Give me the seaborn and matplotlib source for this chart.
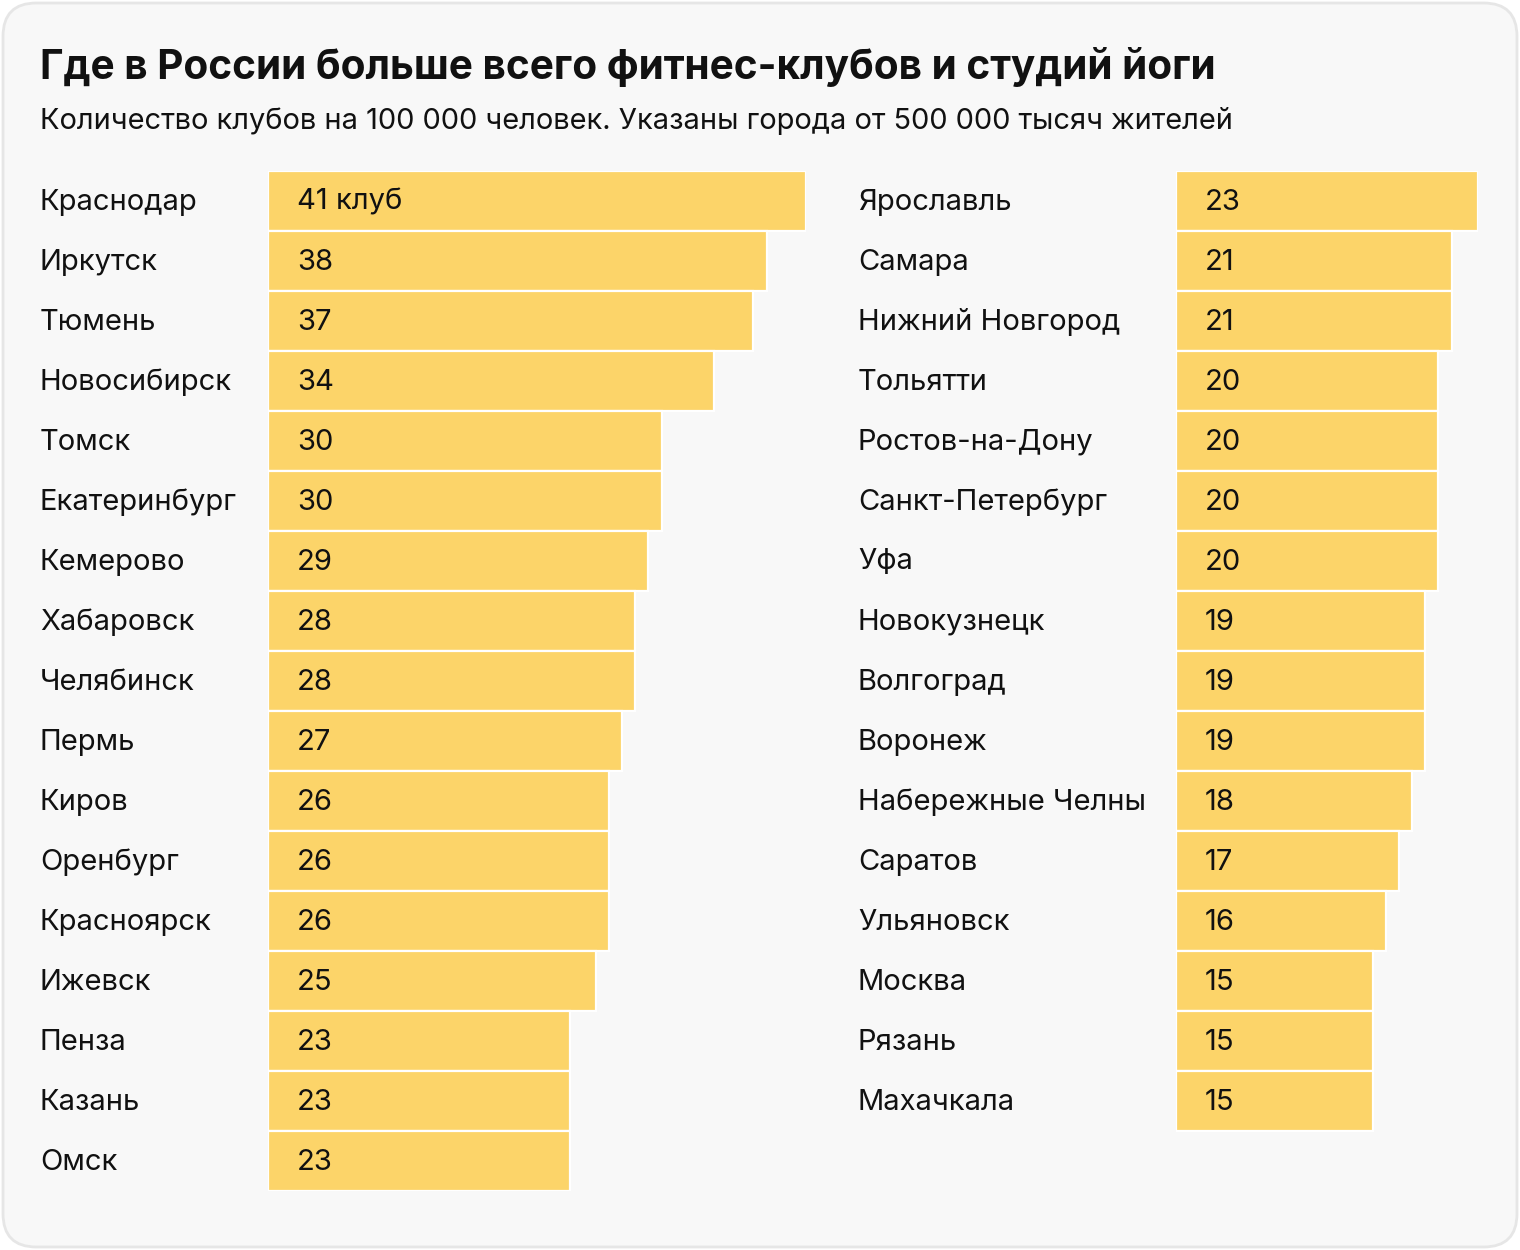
import matplotlib
matplotlib.use('Agg')
import matplotlib.pyplot as plt
import matplotlib.transforms as mtransforms
from matplotlib.patches import FancyBboxPatch
import seaborn as sns
import pandas as pd

# --
# Data

left_cities = ['Краснодар', 'Иркутск', 'Тюмень', 'Новосибирск', 'Томск', 'Екатеринбург',
               'Кемерово', 'Хабаровск', 'Челябинск', 'Пермь', 'Киров', 'Оренбург',
               'Красноярск', 'Ижевск', 'Пенза', 'Казань', 'Омск']
left_values = [41, 38, 37, 34, 30, 30, 29, 28, 28, 27, 26, 26, 26, 25, 23, 23, 23]

right_cities = ['Ярославль', 'Самара', 'Нижний Новгород', 'Тольятти', 'Ростов-на-Дону',
                'Санкт-Петербург', 'Уфа', 'Новокузнецк', 'Волгоград', 'Воронеж',
                'Набережные Челны', 'Саратов', 'Ульяновск', 'Москва', 'Рязань', 'Махачкала']
right_values = [23, 21, 21, 20, 20, 20, 20, 19, 19, 19, 18, 17, 16, 15, 15, 15]

title = 'Где в России больше всего фитнес-клубов и студий йоги'
subtitle = 'Количество клубов на 100 000 человек. Указаны города от 500 000 тысяч жителей'

# --
# Style

sns.set_theme(style='white')
plt.rcParams['font.family'] = ['Inter', 'DejaVu Sans']

W, H = 1520, 1250
BAR = '#fcd469'
BG = '#f8f8f8'
PX_PER_UNIT = 13.12
ROW = 60
TOP = 171
FS = 21

fig = plt.figure(figsize=(W / 100, H / 100), dpi=100)
fig.patch.set_facecolor('white')

card = FancyBboxPatch((3 / W, 3 / H), (W - 6) / W, (H - 6) / H,
                      boxstyle='round,pad=0,rounding_size=0.022',
                      transform=fig.transFigure, facecolor=BG, edgecolor='#e6e6e6',
                      linewidth=2, mutation_aspect=W / H, zorder=-5)
fig.patches.append(card)

fig.text(40 / W, 1 - 79 / H, title, fontsize=29.2, fontweight='bold',
         color='#111111', va='baseline', ha='left')
fig.text(40 / W, 1 - 129 / H, subtitle, fontsize=20.9,
         color='#111111', va='baseline', ha='left')

n_rows = len(left_cities)


def panel(x0, label_x, cities, values, first_suffix=''):
    vmax = values[0]
    width_px = vmax * PX_PER_UNIT
    height_px = n_rows * ROW
    ax = fig.add_axes([x0 / W, 1 - (TOP + height_px) / H, width_px / W, height_px / H])
    df = pd.DataFrame({'city': cities, 'value': values})
    sns.barplot(data=df, x='value', y='city', ax=ax, color=BAR, saturation=1,
                width=1.0, edgecolor='white', linewidth=1.6, orient='h')
    ax.set_xlim(0, vmax)
    ax.set_ylim(n_rows - 0.5, -0.5)
    ax.set_facecolor('none')
    ax.axis('off')

    trans = mtransforms.blended_transform_factory(fig.transFigure, ax.transData)
    shift = 2 / ROW
    for i, (c, v) in enumerate(zip(cities, values)):
        ax.text(label_x / W, i - shift, c, transform=trans, fontsize=FS, color='#111111',
                ha='left', va='center_baseline', clip_on=False)
        txt = str(v) + (first_suffix if i == 0 else '')
        ax.text((x0 + 29) / W, i - shift, txt, transform=trans, fontsize=FS, color='#111111',
                ha='left', va='center_baseline', clip_on=False)
    return ax


panel(268, 40, left_cities, left_values, first_suffix=' клуб')
panel(1176, 858, right_cities, right_values)

fig.savefig('out.png', dpi=100, facecolor=fig.get_facecolor())
